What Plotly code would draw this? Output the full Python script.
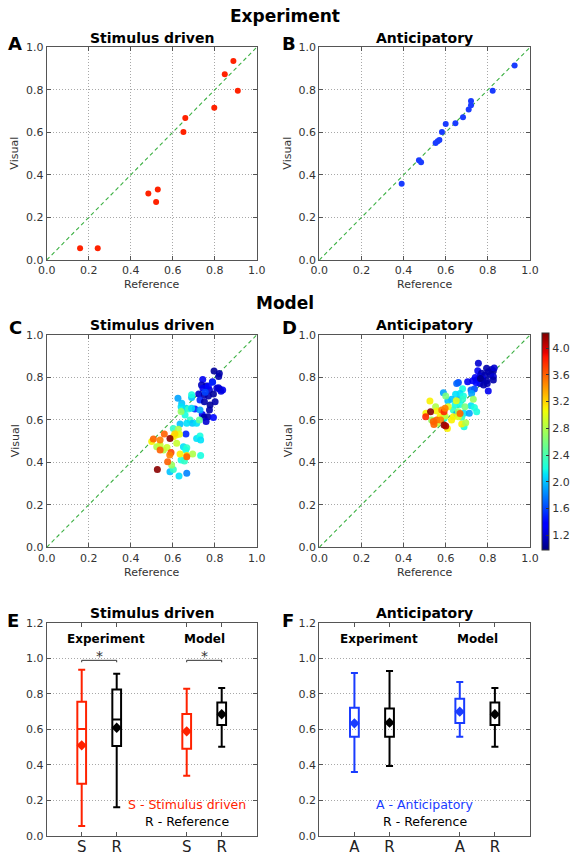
import numpy as np
import plotly.graph_objects as go

# ---------------- DATA ----------------
# Panel A: Experiment, stimulus driven (Reference, Visual)
A_ref = [0.159, 0.243, 0.484, 0.521, 0.529, 0.651, 0.660, 0.798, 0.848, 0.889, 0.910]
A_vis = [0.055, 0.055, 0.313, 0.273, 0.331, 0.602, 0.668, 0.716, 0.873, 0.936, 0.796]

# Panel B: Experiment, anticipatory
B_ref = [0.391, 0.473, 0.483, 0.552, 0.562, 0.570, 0.582, 0.600, 0.646, 0.682, 0.709, 0.720, 0.720, 0.823, 0.927]
B_vis = [0.359, 0.469, 0.459, 0.550, 0.558, 0.564, 0.602, 0.639, 0.643, 0.671, 0.708, 0.727, 0.748, 0.796, 0.914]

# Panel C: Model, stimulus driven (Reference, Visual, colour value)
C_ref = [0.797, 0.822, 0.819, 0.743, 0.789, 0.737, 0.759, 0.744, 0.775, 0.810, 0.825, 0.838, 0.830, 0.818,
         0.724, 0.750, 0.770, 0.794, 0.730, 0.751, 0.802, 0.778, 0.775, 0.741, 0.749, 0.768, 0.794, 0.759,
         0.706, 0.663, 0.770, 0.790, 0.755,
         0.625, 0.643, 0.640, 0.690, 0.690, 0.648, 0.663, 0.675, 0.690, 0.659, 0.683, 0.694, 0.667, 0.635,
         0.603, 0.714, 0.727, 0.730, 0.714, 0.730, 0.733, 0.733, 0.651, 0.667, 0.662, 0.640, 0.656, 0.587,
         0.603, 0.630, 0.667,
         0.640, 0.627, 0.616, 0.603, 0.632, 0.619, 0.500, 0.524, 0.540, 0.556, 0.635, 0.667, 0.695, 0.595,
         0.573, 0.610,
         0.508, 0.540, 0.560, 0.587, 0.540, 0.576, 0.592, 0.586, 0.667, 0.527]
C_vis = [0.830, 0.819, 0.804, 0.790, 0.780, 0.765, 0.760, 0.749, 0.741, 0.749, 0.744, 0.741, 0.735, 0.752,
         0.722, 0.717, 0.713, 0.722, 0.694, 0.686, 0.686, 0.670, 0.647, 0.626, 0.612, 0.615, 0.611, 0.592,
         0.652, 0.534, 0.760, 0.778, 0.730,
         0.702, 0.678, 0.662, 0.706, 0.718, 0.647, 0.655, 0.652, 0.655, 0.623, 0.600, 0.584, 0.584, 0.581,
         0.560, 0.584, 0.600, 0.647, 0.513, 0.524, 0.505, 0.432, 0.474, 0.469, 0.458, 0.411, 0.407, 0.356,
         0.367, 0.336, 0.349,
         0.640, 0.556, 0.529, 0.521, 0.532, 0.490, 0.498, 0.474, 0.482, 0.458, 0.440, 0.432, 0.440, 0.388,
         0.470, 0.535,
         0.510, 0.505, 0.534, 0.513, 0.458, 0.403, 0.446, 0.435, 0.427, 0.367]
C_col = [1.05, 1.1, 1.1, 1.3, 1.25, 1.15, 1.1, 1.3, 1.2, 1.2, 1.3, 1.3, 1.25, 1.2,
         1.2, 1.1, 1.1, 1.05, 1.5, 1.1, 1.1, 1.05, 1.1, 1.3, 1.1, 1.1, 1.4, 1.2,
         1.5, 1.5, 1.4, 1.5, 1.6,
         1.9, 2.0, 2.1, 2.0, 2.2, 2.2, 2.1, 2.3, 2.1, 2.2, 2.3, 2.0, 2.1, 2.0,
         2.3, 2.1, 2.5, 1.9, 2.1, 2.2, 2.1, 2.2, 2.1, 2.3, 2.2, 2.2, 2.3, 2.0,
         2.3, 2.1, 1.8,
         2.7, 2.8, 3.1, 3.1, 3.0, 2.9, 3.1, 2.8, 2.9, 2.8, 3.1, 3.2, 2.8, 2.7,
         2.9, 3.2,
         3.6, 3.5, 3.6, 4.2, 3.6, 3.6, 3.7, 3.5, 3.6, 4.2]

# Panel D: Model, anticipatory
D_ref = [0.755, 0.794, 0.818, 0.826, 0.802, 0.752, 0.770, 0.763, 0.786, 0.813, 0.826, 0.826, 0.728, 0.747,
         0.775, 0.794, 0.704, 0.763, 0.780, 0.797, 0.745, 0.740, 0.802, 0.660, 0.652, 0.736, 0.720, 0.723,
         0.830, 0.765,
         0.589, 0.647, 0.680, 0.668, 0.684, 0.628, 0.660, 0.680, 0.644, 0.668, 0.720, 0.736, 0.636, 0.687,
         0.712, 0.747, 0.652, 0.676, 0.687, 0.593, 0.610,
         0.731, 0.600, 0.691, 0.525, 0.552, 0.557, 0.573, 0.612, 0.636, 0.597, 0.628, 0.660, 0.660, 0.676,
         0.695, 0.506, 0.533, 0.608, 0.557, 0.650,
         0.528, 0.505, 0.541, 0.544, 0.581, 0.592, 0.597, 0.557, 0.576, 0.592, 0.600, 0.668]
D_vis = [0.867, 0.843, 0.838, 0.830, 0.827, 0.832, 0.820, 0.807, 0.812, 0.812, 0.804, 0.788, 0.785, 0.788,
         0.793, 0.785, 0.780, 0.772, 0.765, 0.772, 0.775, 0.800, 0.736, 0.776, 0.772, 0.746, 0.741, 0.725,
         0.845, 0.795,
         0.728, 0.721, 0.747, 0.725, 0.713, 0.697, 0.694, 0.697, 0.670, 0.673, 0.667, 0.659, 0.647, 0.631,
         0.631, 0.639, 0.628, 0.612, 0.568, 0.608, 0.690,
         0.697, 0.713, 0.662, 0.689, 0.662, 0.642, 0.615, 0.662, 0.615, 0.619, 0.600, 0.639, 0.615, 0.581,
         0.587, 0.631, 0.600, 0.560, 0.584, 0.690,
         0.639, 0.615, 0.592, 0.579, 0.647, 0.639, 0.655, 0.600, 0.600, 0.576, 0.571, 0.630]
D_col = [1.2, 1.1, 1.1, 1.05, 1.1, 1.3, 1.1, 1.2, 1.1, 1.1, 1.2, 1.1, 1.3, 1.2,
         1.3, 1.1, 1.3, 1.2, 1.1, 1.1, 1.4, 1.3, 1.3, 1.6, 1.7, 1.6, 1.7, 1.9,
         1.2, 1.0,
         1.9, 2.1, 2.2, 2.1, 2.2, 2.0, 1.9, 2.3, 2.2, 2.2, 2.1, 2.2, 2.3, 2.1,
         1.9, 2.2, 1.9, 2.3, 2.2, 2.2, 2.0,
         2.7, 2.6, 2.6, 3.1, 2.8, 3.1, 3.1, 3.0, 3.1, 2.9, 3.1, 2.7, 3.0, 3.1,
         2.8, 3.1, 2.7, 3.1, 2.9, 3.0,
         4.2, 3.8, 3.6, 3.6, 3.5, 3.8, 3.5, 3.6, 3.5, 4.2, 4.1, 3.6]
COLOR_MIN, COLOR_MAX = 0.975, 4.225
CBAR_TICKS = [1.2, 1.6, 2.0, 2.4, 2.8, 3.2, 3.6, 4.0]

DIAG = [0.0, 1.0]

# Panels E/F: box statistics
BOX_POS = [1, 2, 4, 5]
E_labels = ["S", "R", "S", "R"]
E_low = [0.054, 0.160, 0.338, 0.501]
E_q1 = [0.293, 0.505, 0.490, 0.623]
E_med = [0.601, 0.655, 0.588, 0.684]
E_q3 = [0.755, 0.823, 0.685, 0.751]
E_high = [0.935, 0.913, 0.828, 0.832]
E_mean = [0.509, 0.608, 0.588, 0.684]

F_labels = ["A", "R", "A", "R"]
F_low = [0.359, 0.392, 0.558, 0.501]
F_q1 = [0.558, 0.558, 0.635, 0.623]
F_med = [0.633, 0.633, 0.699, 0.684]
F_q3 = [0.721, 0.717, 0.772, 0.751]
F_high = [0.916, 0.928, 0.866, 0.832]
F_mean = [0.633, 0.637, 0.699, 0.684]

SIG_PAIRS = [[1, 2], [4, 5]]
SIG_Y, SIG_TICK_Y = 0.988, 0.977

# ---------------- STYLE ----------------
W, H = 570, 855
RED = "#ff2200"
BLUE = "#1a3cff"
BLACK = "#000000"
GREEN = "#3cb043"
FONT = "DejaVu Sans"


def px(x):
    return x / W


def py(y):
    return 1 - y / H


# matplotlib 'jet' colormap
_r = [(0, 0), (0.35, 0), (0.66, 1), (0.89, 1), (1, 0.5)]
_g = [(0, 0), (0.125, 0), (0.375, 1), (0.64, 1), (0.91, 0), (1, 0)]
_b = [(0, 0.5), (0.11, 1), (0.34, 1), (0.65, 0), (1, 0)]
_stops = sorted(set([p for p, _ in _r + _g + _b]))
JET = []
for s in _stops:
    r = np.interp(s, [p for p, _ in _r], [v for _, v in _r])
    g = np.interp(s, [p for p, _ in _g], [v for _, v in _g])
    b = np.interp(s, [p for p, _ in _b], [v for _, v in _b])
    JET.append([s, "rgb(%d,%d,%d)" % (round(r * 255), round(g * 255), round(b * 255))])

XL, XR = 46.7, 256.7
XL2, XR2 = 319.3, 530.0
ROWS = [(47.3, 260.0), (335.0, 547.3), (622.7, 835.7)]
GRID_DASH = "1px,2px"


def axis_style(**kw):
    d = dict(showline=True, linecolor="#555", linewidth=1, mirror="ticks",
             ticks="inside", ticklen=4, tickcolor="#555",
             showgrid=True, gridcolor="#a8a8a8", griddash=GRID_DASH, gridwidth=1,
             zeroline=False, tickfont=dict(family=FONT, size=11, color="#333"))
    d.update(kw)
    return d


fig = go.Figure()

for xa, ya, xs, ys, col in [("x", "y", A_ref, A_vis, RED), ("x2", "y2", B_ref, B_vis, BLUE)]:
    fig.add_trace(go.Scatter(x=DIAG, y=DIAG, mode="lines", xaxis=xa, yaxis=ya,
                             line=dict(color=GREEN, dash="4px,3px", width=1.1), showlegend=False,
                             hoverinfo="skip"))
    fig.add_trace(go.Scatter(x=xs, y=ys, mode="markers", xaxis=xa, yaxis=ya,
                             marker=dict(color=col, size=6, line=dict(width=0)), showlegend=False))

for xa, ya, xs, ys, cs, show in [("x3", "y3", C_ref, C_vis, C_col, False),
                                  ("x4", "y4", D_ref, D_vis, D_col, True)]:
    fig.add_trace(go.Scatter(x=DIAG, y=DIAG, mode="lines", xaxis=xa, yaxis=ya,
                             line=dict(color=GREEN, dash="4px,3px", width=1.1), showlegend=False,
                             hoverinfo="skip"))
    mk = dict(color=cs, colorscale=JET, cmin=COLOR_MIN, cmax=COLOR_MAX, size=7,
              opacity=0.9, line=dict(width=0), showscale=show)
    if show:
        mk["colorbar"] = dict(x=px(541.7), xanchor="left", y=py(441.7), yanchor="middle",
                              len=216.7, lenmode="pixels", thickness=7, thicknessmode="pixels",
                              outlinewidth=1, outlinecolor="#333", tickvals=CBAR_TICKS,
                              tickformat=".1f", ticks="inside", ticklen=3, tickcolor="#333",
                              tickfont=dict(family=FONT, size=11, color="#333"), xpad=0, ypad=0)
    fig.add_trace(go.Scatter(x=xs, y=ys, mode="markers", xaxis=xa, yaxis=ya,
                             marker=mk, showlegend=False))

box_specs = [
    ("x5", "y5", E_low, E_q1, E_med, E_q3, E_high, E_mean, [RED, BLACK, RED, BLACK]),
    ("x6", "y6", F_low, F_q1, F_med, F_q3, F_high, F_mean, [BLUE, BLACK, BLUE, BLACK]),
]
for xa, ya, lo, q1, med, q3, hi, mn, cols in box_specs:
    for i in range(4):
        fig.add_trace(go.Box(x=[BOX_POS[i]], lowerfence=[lo[i]], q1=[q1[i]], median=[med[i]],
                             q3=[q3[i]], upperfence=[hi[i]], width=0.25, whiskerwidth=0.8,
                             line=dict(color=cols[i], width=2), fillcolor="rgba(0,0,0,0)",
                             boxpoints=False, xaxis=xa, yaxis=ya, showlegend=False))
        fig.add_trace(go.Scatter(x=[BOX_POS[i]], y=[mn[i]], mode="markers", xaxis=xa, yaxis=ya,
                                 marker=dict(symbol="diamond", size=8, color=cols[i]),
                                 showlegend=False))

for a, b in SIG_PAIRS:
    fig.add_trace(go.Scatter(x=[a, a, b, b], y=[SIG_TICK_Y, SIG_Y, SIG_Y, SIG_TICK_Y],
                             mode="lines", xaxis="x5", yaxis="y5",
                             line=dict(color="#333", width=1), showlegend=False))

lay = {}
for suf, l, r, (t, b) in [("", XL, XR, ROWS[0]), ("2", XL2, XR2, ROWS[0]),
                          ("3", XL, XR, ROWS[1]), ("4", XL2, XR2, ROWS[1])]:
    lay["xaxis" + suf] = axis_style(domain=[px(l), px(r)], range=[0, 1], dtick=0.2,
                                    tickformat=".1f", anchor="y" + suf)
    lay["yaxis" + suf] = axis_style(domain=[py(b), py(t)], range=[0, 1], dtick=0.2,
                                    tickformat=".1f", anchor="x" + suf)
for suf, l, r, labels in [("5", XL, XR, E_labels), ("6", XL2, XR2, F_labels)]:
    t, b = ROWS[2]
    lay["xaxis" + suf] = axis_style(domain=[px(l), px(r)], range=[0, 6], tickvals=BOX_POS,
                                    ticktext=labels, showgrid=False, anchor="y" + suf,
                                    ticklabelstandoff=-3,
                                    tickfont=dict(family=FONT, size=15, color="#222"))
    lay["yaxis" + suf] = axis_style(domain=[py(b), py(t)], range=[0, 1.2], dtick=0.2,
                                    tickformat=".1f", anchor="x" + suf)

ann = []


def txt(x, y, s, size, bold=False, color="#000", xref="paper", yref="paper", angle=0,
        xanchor="center"):
    ann.append(dict(x=x, y=y, xref=xref, yref=yref, text=("<b>%s</b>" % s) if bold else s,
                    showarrow=False, textangle=angle, xanchor=xanchor, yanchor="middle",
                    font=dict(family=FONT, size=size, color=color)))


txt(px(285), py(16), "Experiment", 17, True)
txt(px(285), py(303), "Model", 17, True)

centers = [(XL + XR) / 2, (XL2 + XR2) / 2]
for yy in [38, 325, 613]:
    for c, s in zip(centers, ["Stimulus driven", "Anticipatory"]):
        txt(px(c), py(yy), s, 14, True)

for s, x, y in [("A", 15, 44), ("B", 289, 44), ("C", 15, 327), ("D", 289, 327),
                ("E", 13, 620), ("F", 288, 620)]:
    txt(px(x), py(y), s, 18, True)

for yy in [284, 572]:
    for c in centers:
        txt(px(c), py(yy), "Reference", 11, color="#333")
for yy in [(47.3 + 260) / 2, (335 + 547.3) / 2]:
    txt(px(15), py(yy), "Visual", 11, color="#333", angle=-90)
    txt(px(288), py(yy), "Visual", 11, color="#333", angle=-90)

for xa, ya in [("x5", "y5"), ("x6", "y6")]:
    txt(1.7, 1.108, "Experiment", 12, True, xref=xa, yref=ya)
    txt(4.5, 1.108, "Model", 12, True, xref=xa, yref=ya)
for a, b in SIG_PAIRS:
    txt((a + b) / 2, 1.012, "*", 14, xref="x5", yref="y5", color="#333")
txt(4.0, 0.178, "S - Stimulus driven", 12.5, color=RED, xref="x5", yref="y5")
txt(4.0, 0.079, "R - Reference", 12.5, color="#000", xref="x5", yref="y5")
txt(3.0, 0.178, "A - Anticipatory", 12.5, color=BLUE, xref="x6", yref="y6")
txt(3.0, 0.079, "R - Reference", 12.5, color="#000", xref="x6", yref="y6")

fig.update_layout(width=W, height=H, margin=dict(l=0, r=0, t=0, b=0, autoexpand=False),
                  paper_bgcolor="white", plot_bgcolor="white", showlegend=False,
                  annotations=ann, **lay)

fig.write_html("out.html", config={"displayModeBar": False},
               post_script="document.body.style.margin='0';document.body.style.overflow='hidden';")
